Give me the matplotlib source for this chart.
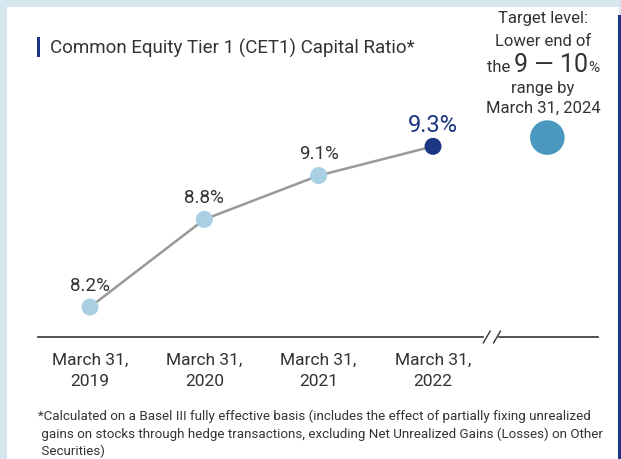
import matplotlib
matplotlib.use('Agg')
import matplotlib.pyplot as plt
from matplotlib.patches import Rectangle
from matplotlib import font_manager

# Data
dates = ['March 31,\n2019', 'March 31,\n2020', 'March 31,\n2021', 'March 31,\n2022']
cet1_ratio = [8.2, 8.8, 9.1, 9.3]
value_labels = ['8.2%', '8.8%', '9.1%', '9.3%']
target_y = 9.36  # target marker height (not a data value)
target_lines = ['Target level:', 'Lower end of', None, 'range by', 'March 31, 2024']
title = 'Common Equity Tier 1 (CET1) Capital Ratio*'
footnote = [
    '*Calculated on a Basel III fully effective basis (includes the effect of partially fixing unrealized',
    ' gains on stocks through hedge transactions, excluding Net Unrealized Gains (Losses) on Other',
    ' Securities)',
]

names = {f.name for f in font_manager.fontManager.ttflist}
FONT = ['Liberation Sans Narrow', 'DejaVu Sans'] if 'Liberation Sans Narrow' in names else ['Roboto', 'DejaVu Sans']
plt.rcParams['font.family'] = FONT

TEXT = '#333333'
LIGHT = '#a9d0e2'
NAVY = '#1c3683'
TARGET = '#4a97bf'

W, H = 621, 460
fig = plt.figure(figsize=(W / 100, H / 100), dpi=100)
fig.patch.set_facecolor('#d5e6ef')
# white panel + dark right border
fig.patches.append(Rectangle((7 / W, 0), 612 / W, 452 / H, transform=fig.transFigure,
                             facecolor='white', edgecolor='none', zorder=-2))
fig.patches.append(Rectangle((618 / W, 0), 3 / W, 444 / H, transform=fig.transFigure,
                             facecolor=NAVY, edgecolor='none', zorder=-1))

# axes placement in pixels: x 38..598, y 10..338
ax = fig.add_axes([38 / W, (H - 338) / H, 560 / W, 328 / H])
ax.set_facecolor('none')
ax.set_xlim(-0.455, 4.443)
ax.set_ylim(7.995, 10.24)
for s in ax.spines.values():
    s.set_visible(False)
ax.set_yticks([])
ax.set_xticks(range(len(dates)))
ax.set_xticklabels(dates, fontsize=12.5, color=TEXT, linespacing=1.45)
ax.tick_params(axis='x', length=0, pad=11)

# baseline with a break
xt = ax.get_xaxis_transform()
ax.plot([-0.455, 3.44], [0, 0], color='#333333', lw=1.2, transform=xt, clip_on=False)
ax.plot([3.58, 4.443], [0, 0], color='#333333', lw=1.2, transform=xt, clip_on=False)
for bx in (3.47, 3.56):
    ax.plot([bx - 0.03, bx + 0.03], [-0.018, 0.018], color='#333333', lw=1.0,
            transform=xt, clip_on=False)

xs = list(range(len(cet1_ratio)))
ax.plot(xs, cet1_ratio, color='#999999', lw=1.8, zorder=2)
colors = [LIGHT] * (len(xs) - 1) + [NAVY]
ax.scatter(xs, cet1_ratio, s=150, c=colors, zorder=3, edgecolors='none')
for i, (v, lab) in enumerate(zip(cet1_ratio, value_labels)):
    last = i == len(xs) - 1
    ax.annotate(lab, (i, v), xytext=(0, 16), textcoords='offset points',
                ha='center', va='center', fontsize=17 if last else 13.5,
                color=NAVY if last else TEXT)

# target marker
ax.scatter([4], [target_y], s=620, c=TARGET, zorder=3, edgecolors='none')

# target text
fig.text(543 / W, 1 - 18 / H, target_lines[0], ha='center', va='center', fontsize=12, color=TEXT)
fig.text(543 / W, 1 - 41 / H, target_lines[1], ha='center', va='center', fontsize=12, color=TEXT)
fig.text(543 / W, 1 - 88 / H, target_lines[3], ha='center', va='center', fontsize=12, color=TEXT)
fig.text(543 / W, 1 - 108 / H, target_lines[4], ha='center', va='center', fontsize=12, color=TEXT)

# mixed-size line: "the 9 — 10%"
renderer = fig.canvas.get_renderer()
parts = [('the ', 12), ('9 \u2014 10', 18), ('%', 11)]
objs = [fig.text(0, 1 - 64 / H, t, fontsize=fs, color=TEXT, va='baseline', ha='left') for t, fs in parts]
widths = [o.get_window_extent(renderer).width for o in objs]
x0 = 543 - sum(widths) / 2
base = 1 - 72 / H
for o, w in zip(objs, widths):
    o.set_position((x0 / W, base))
    x0 += w

# title with accent bar
fig.patches.append(Rectangle((37 / W, 1 - 58 / H), 3 / W, 20 / H, transform=fig.transFigure,
                             facecolor=NAVY, edgecolor='none'))
fig.text(50 / W, 1 - 48 / H, title, ha='left', va='center', fontsize=13.5, color=TEXT)

# footnote
fs_note = 9.6
fig.text(38 / W, 1 - 416 / H, footnote[0], ha='left', va='center', fontsize=fs_note, color=TEXT)
fig.text(38 / W, 1 - 434 / H, footnote[1], ha='left', va='center', fontsize=fs_note, color=TEXT)
fig.text(38 / W, 1 - 451 / H, footnote[2], ha='left', va='center', fontsize=fs_note, color=TEXT)

fig.savefig('out.png', dpi=100)
